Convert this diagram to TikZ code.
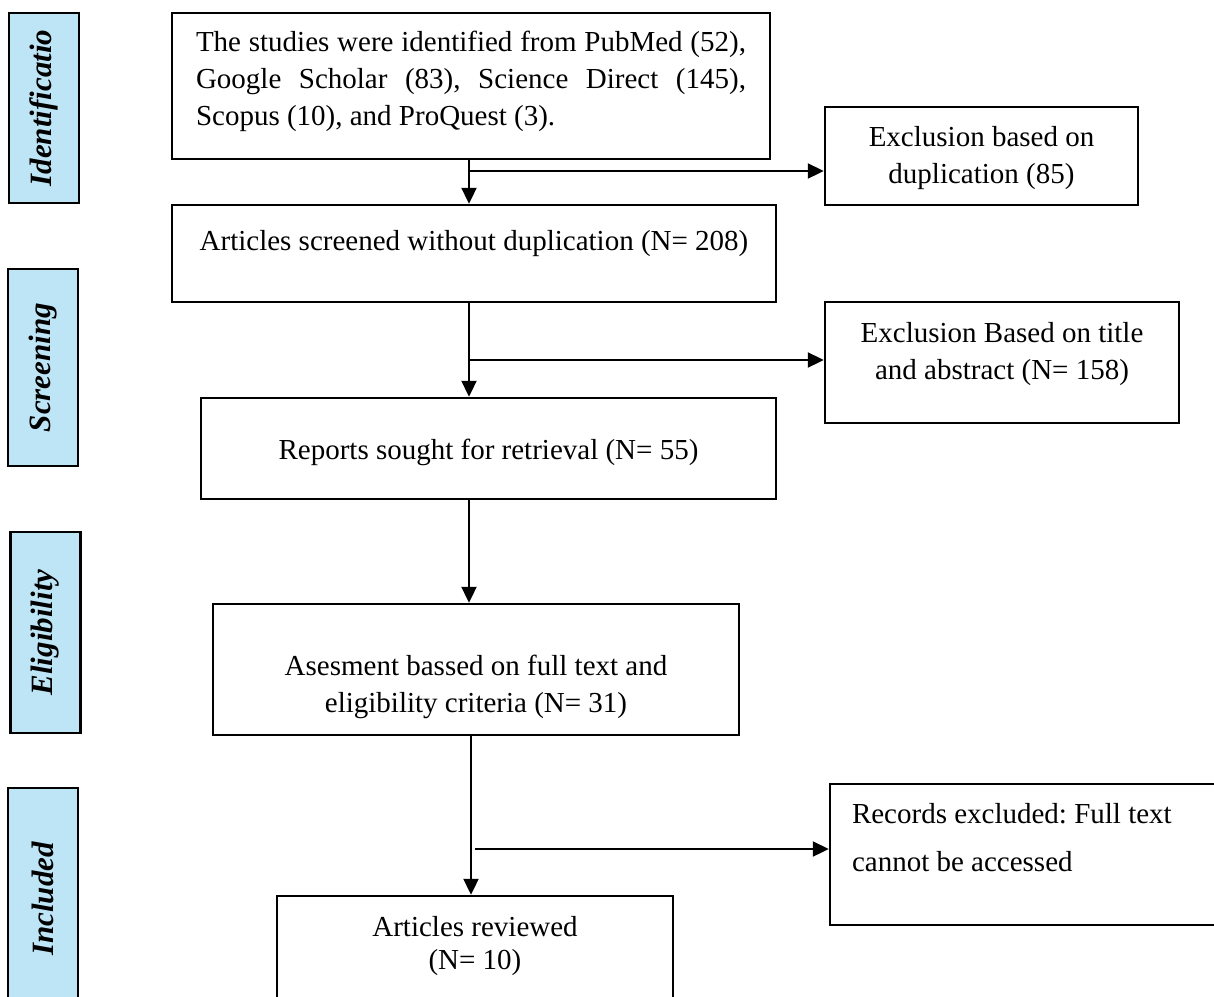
\documentclass[tikz,border=0pt]{standalone}
\usepackage{fontspec}
\setmainfont{Liberation Serif}
\usetikzlibrary{positioning, arrows.meta}
\definecolor{phaseBlue}{RGB}{190,229,245}
\newcommand{\bodyfs}{\fontsize{14.5}{18.5}\selectfont\frenchspacing}
\newcommand{\lift}[3][c]{\raisebox{#2}[0pt][0pt]{\begin{tabular}{@{}#1@{}}#3\end{tabular}}}

\begin{document}
\begin{tikzpicture}[x=0.5pt, y=-0.5pt,
  box/.style={draw, line width=1.2pt, inner sep=0pt, font=\bodyfs},
  phase/.style={draw, line width=1.4pt, fill=phaseBlue, rotate=90, inner sep=0pt,
    minimum height=35pt, font=\fontsize{15.5}{18}\selectfont\bfseries\itshape},
  flow/.style={line width=1pt, -{Triangle[length=8pt, width=7.5pt]}},
]
  \useasboundingbox (0,0) rectangle (1214,996);
  \clip (0,0) rectangle (1214,996);

  % stage labels on the left
  \node[phase, minimum width=95pt]    (idLab)  at (44,108)    {Identificatio};
  \node[phase, minimum width=98.5pt]  (scrLab) at (43,367.5)  {Screening};
  \node[phase, minimum width=100.5pt] (eliLab) at (45.5,632.5) {Eligibility};
  \node[phase, minimum width=111pt]   (incLab) at (43,899)    {Included};

  % main column
  \node[box, minimum width=299pt, minimum height=73pt] (ident) at (471,86)
    {\lift[l]{-1.2pt}{\makebox[275pt][s]{The studies were identified from PubMed (52),}\\
      \makebox[275pt][s]{Google Scholar (83), Science Direct (145),}\\
      Scopus (10), and ProQuest (3).}};
  \node[box, minimum width=302pt, minimum height=48.5pt] (screen) at (474,253.5)
    {\lift{1.5pt}{Articles screened without duplication (N= 208)}};
  \node[box, minimum width=287.5pt, minimum height=50.5pt] (sought) at (488.5,448.5)
    {\lift{-5.5pt}{Reports sought for retrieval (N= 55)}};
  \node[box, minimum width=263pt, minimum height=65.5pt] (assess) at (476,669.5)
    {\lift{-12pt}{Asesment bassed on full text and\\eligibility criteria (N= 31)}};
  \node[box, minimum width=198pt, minimum height=57pt] (reviewed) at (475,953)
    {\lift{0pt}{Articles reviewed\\[-2pt](N= 10)}};

  % exclusions on the right
  \node[box, minimum width=156.5pt, minimum height=49pt] (dup) at (981.5,156)
    {\lift{-4.2pt}{Exclusion based on\\duplication (85)}};
  \node[box, minimum width=177pt, minimum height=60.5pt] (titleEx) at (1002,362.5)
    {\lift{1pt}{Exclusion Based on title\\and abstract (N= 158)}};
  \node[box, minimum width=205pt, minimum height=70.5pt] (fullEx) at (1035,854.5)
    {\lift[p{183pt}]{3.5pt}{Records excluded: Full text\\[5.5pt]cannot be accessed}};

  % connectors
  \coordinate (forkA) at (469,171);
  \coordinate (forkB) at (469,360);
  \coordinate (forkD) at (471,849);
  \draw[flow] (ident.south -| forkA) -- (screen.north -| forkA);
  \draw[flow] (forkA) -- (forkA -| dup.west);
  \draw[flow] (screen.south -| forkB) -- (sought.north -| forkB);
  \draw[flow] (forkB) -- (forkB -| titleEx.west);
  \draw[flow] (sought.south -| forkB) -- (assess.north -| forkB);
  \draw[flow] (assess.south -| forkD) -- (reviewed.north -| forkD);
  \draw[flow] ([xshift=2pt]forkD) -- (forkD -| fullEx.west);
\end{tikzpicture}
\end{document}
